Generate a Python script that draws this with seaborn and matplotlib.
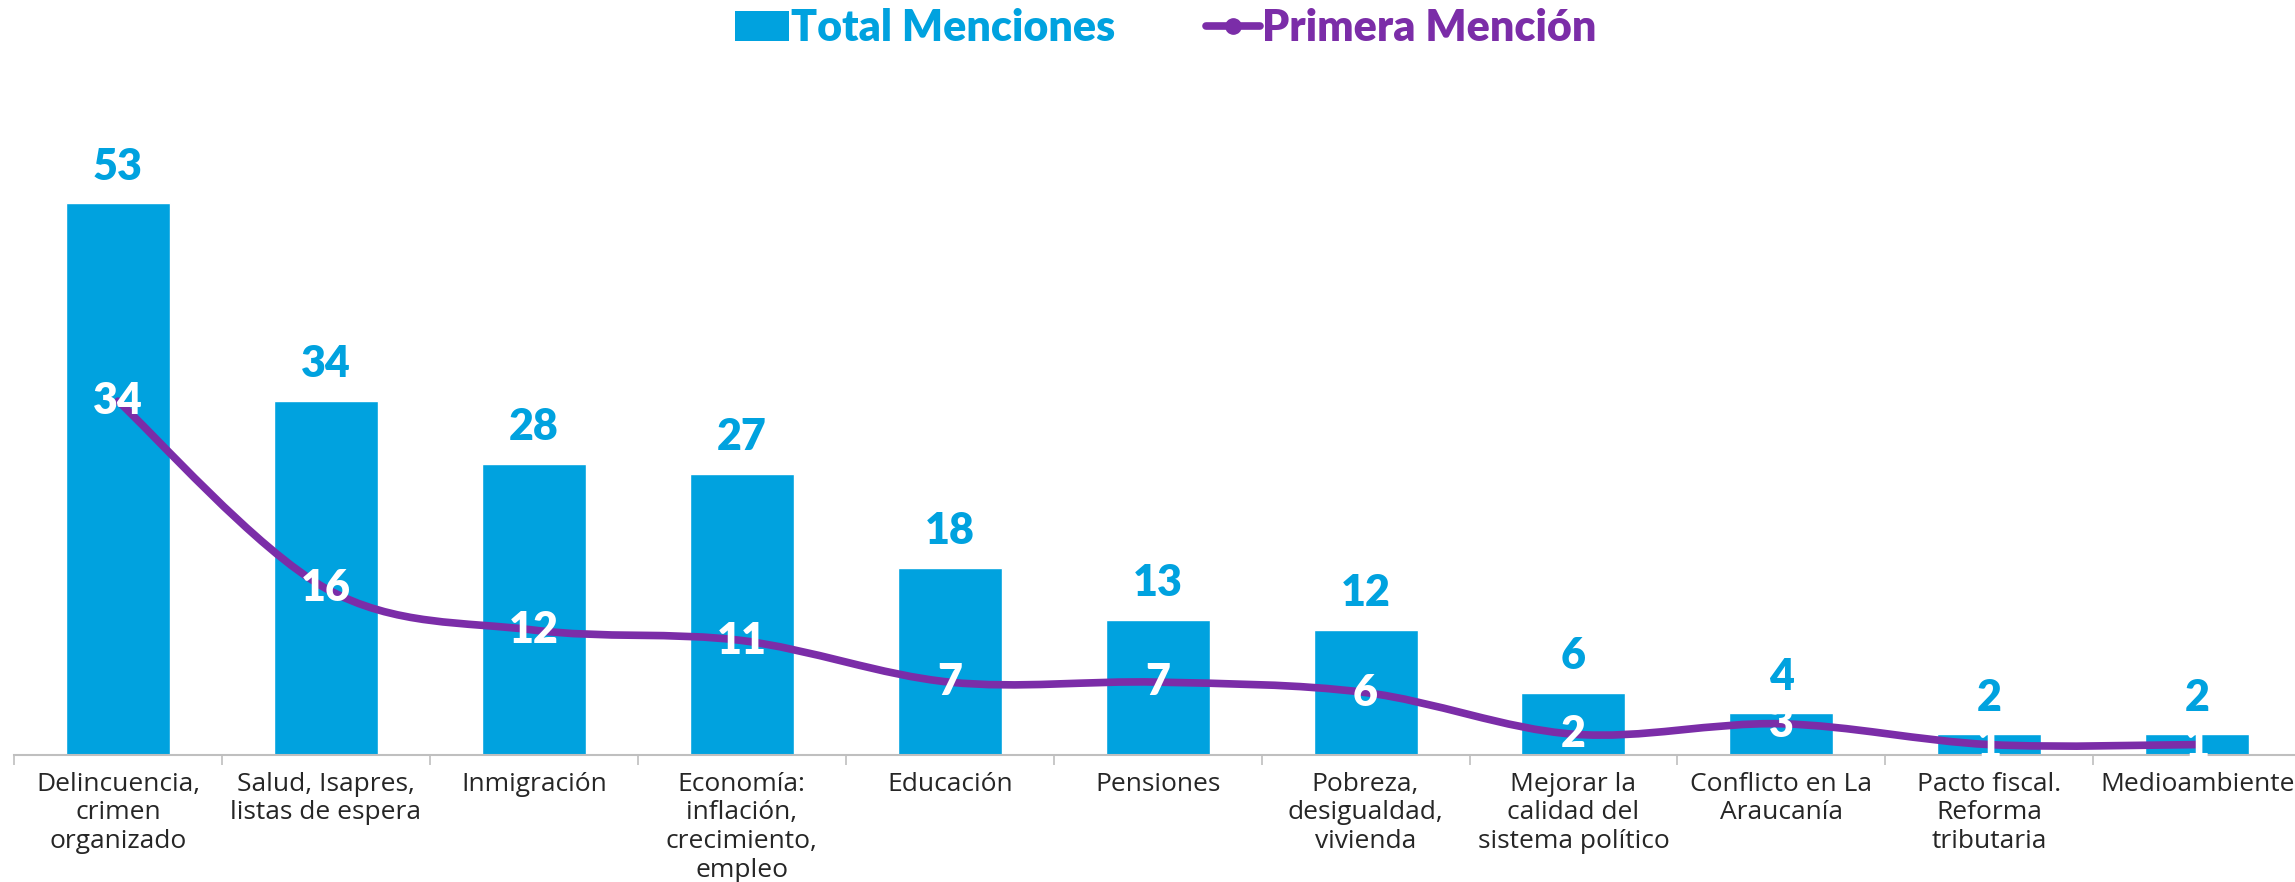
import matplotlib
matplotlib.use("Agg")
import matplotlib.pyplot as plt
import seaborn as sns
import pandas as pd
from matplotlib.path import Path
from matplotlib.patches import PathPatch, Patch
from matplotlib.lines import Line2D

# data
categorias = [
    "Delincuencia,\ncrimen\norganizado",
    "Salud, Isapres,\nlistas de espera",
    "Inmigración",
    "Economía:\ninflación,\ncrecimiento,\nempleo",
    "Educación",
    "Pensiones",
    "Pobreza,\ndesigualdad,\nvivienda",
    "Mejorar la\ncalidad del\nsistema político",
    "Conflicto en La\nAraucanía",
    "Pacto fiscal.\nReforma\ntributaria",
    "Medioambiente",
]
total_menciones = [53, 34, 28, 27, 18, 13, 12, 6, 4, 2, 2]
primera_mencion = [34, 16, 12, 11, 7, 7, 6, 2, 3, 1, 1]

AZUL = "#00A2DF"
MORADO = "#7B2DA8"
GRIS = "#BFBFBF"

sns.set_theme(style="white")
plt.rcParams["font.family"] = ["Open Sans", "DejaVu Sans"]

df = pd.DataFrame({"cat": categorias, "total": total_menciones, "primera": primera_mencion})

fig = plt.figure(figsize=(22.95, 8.82), dpi=100)
ax = fig.add_axes([14 / 2295, 127 / 882, 2281 / 2295, 0.76])

sns.barplot(data=df, x="cat", y="total", color=AZUL, width=0.5, saturation=1, ax=ax)
ax.bar_label(ax.containers[0], padding=12, color=AZUL, fontsize=31,
             fontweight="heavy", family="Lato")

# smoothed line (Catmull-Rom style bezier through the data points)
xs = list(range(len(primera_mencion)))
ys = primera_mencion
pts = list(zip(xs, ys))
verts = [pts[0]]
codes = [Path.MOVETO]
n = len(pts)
for i in range(n - 1):
    p0 = pts[i - 1] if i > 0 else pts[i]
    p1 = pts[i]
    p2 = pts[i + 1]
    p3 = pts[i + 2] if i + 2 < n else pts[i + 1]
    c1 = (p1[0] + (p2[0] - p0[0]) / 6, p1[1] + (p2[1] - p0[1]) / 6)
    c2 = (p2[0] - (p3[0] - p1[0]) / 6, p2[1] - (p3[1] - p1[1]) / 6)
    verts += [c1, c2, p2]
    codes += [Path.CURVE4] * 3
ax.add_patch(PathPatch(Path(verts, codes), facecolor="none", edgecolor=MORADO,
                       lw=5.5, capstyle="round", joinstyle="round", zorder=3))

for x, y in zip(xs, ys):
    ax.text(x, y, str(y), ha="center", va="center", color="white", fontsize=31,
            fontweight="heavy", family="Lato", zorder=4)

ax.set_xlim(-0.5, 10.47)
ax.set_ylim(0, 64.4)
ax.set_xlabel("")
ax.set_ylabel("")
ax.set_yticks([])
for s in ["left", "right", "top"]:
    ax.spines[s].set_visible(False)
ax.spines["bottom"].set_color(GRIS)
ax.spines["bottom"].set_linewidth(1.5)

ax.set_xticks(xs)
ax.set_xticklabels(categorias, fontsize=19, color="#262626", linespacing=1.2)
ax.set_xticks([i - 0.5 for i in xs], minor=True)
ax.tick_params(axis="x", which="major", length=0, pad=12)
ax.tick_params(axis="x", which="minor", length=7, width=1.2, color=GRIS, direction="out", bottom=True)

handles = [
    Patch(facecolor=AZUL, edgecolor="none"),
    Line2D([0], [0], color=MORADO, lw=5.5, marker="o", markersize=11),
]
leg = fig.legend(handles, ["Total Menciones", "Primera Mención"], loc="upper center",
                 bbox_to_anchor=(0.508, 1.035), ncol=2, frameon=False,
                 prop={"family": "Lato", "weight": "heavy", "size": 31},
                 handlelength=1.25, handleheight=0.7, handletextpad=0.05, columnspacing=2.1)
leg.get_texts()[0].set_color(AZUL)
leg.get_texts()[1].set_color(MORADO)

fig.savefig("out.png", dpi=100)
